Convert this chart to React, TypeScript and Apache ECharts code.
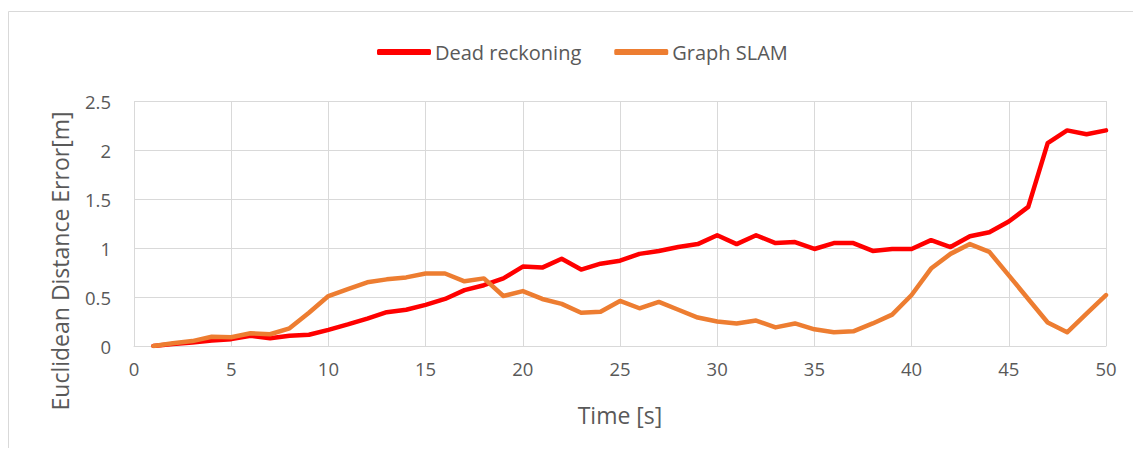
import React, { useEffect, useRef } from "react";
import * as echarts from "echarts";

const times = [1, 2, 3, 4, 5, 6, 7, 8, 9, 10, 11, 12, 13, 14, 15, 16, 17, 18, 19, 20, 21, 22, 23, 24, 25, 26, 27, 28, 29, 30, 31, 32, 33, 34, 35, 36, 37, 38, 39, 40, 41, 42, 43, 44, 45, 46, 47, 48, 49, 50];
const deadReckoning = [0, 0.02, 0.035, 0.055, 0.07, 0.105, 0.08, 0.105, 0.115, 0.165, 0.22, 0.28, 0.345, 0.37, 0.42, 0.48, 0.57, 0.62, 0.69, 0.81, 0.8, 0.89, 0.78, 0.84, 0.87, 0.94, 0.97, 1.01, 1.04, 1.13, 1.04, 1.13, 1.05, 1.06, 0.99, 1.05, 1.05, 0.97, 0.99, 0.99, 1.08, 1.01, 1.12, 1.16, 1.27, 1.42, 2.07, 2.2, 2.16, 2.2];
const graphSlam = [0, 0.027, 0.05, 0.095, 0.09, 0.13, 0.12, 0.18, 0.34, 0.51, 0.58, 0.65, 0.68, 0.7, 0.74, 0.74, 0.66, 0.69, 0.51, 0.56, 0.48, 0.43, 0.34, 0.35, 0.46, 0.385, 0.45, 0.37, 0.29, 0.25, 0.23, 0.26, 0.19, 0.23, 0.17, 0.14, 0.15, 0.23, 0.32, 0.52, 0.79, 0.94, 1.04, 0.96, 0.72, 0.48, 0.24, 0.14, 0.33, 0.52];
const seriesNames = ["Dead reckoning", "Graph SLAM"];
const yTitle = "Euclidean Distance Error[m]";
const xTitle = "Time [s]";

const FONT = "'Open Sans', sans-serif";
const TEXT = "#595959";
const GRID = "#d9d9d9";

export default function App() {
  const ref = useRef<HTMLDivElement>(null);
  useEffect(() => {
    if (!ref.current) return;
    const chart = echarts.init(ref.current, null, { renderer: "svg" });
    const pair = (vals: number[]) => times.map((t, i) => [t, vals[i]]);
    chart.setOption({
      animation: false,
      textStyle: { fontFamily: FONT },
      graphic: [
        {
          type: "rect",
          shape: { x: 8.5, y: 11.5, width: 1300, height: 600 },
          style: { fill: "none", stroke: GRID, lineWidth: 1 },
          silent: true,
        },
        {
          type: "text",
          x: 60,
          y: 261,
          rotation: Math.PI / 2,
          style: {
            text: yTitle,
            fill: TEXT,
            font: `23px ${FONT}`,
            align: "center",
            verticalAlign: "middle",
          },
          silent: true,
        },
      ],
      legend: {
        top: 37,
        left: 372,
        itemWidth: 54,
        itemHeight: 6,
        itemGap: 33,
        icon: "roundRect",
        textStyle: { color: TEXT, fontSize: 20, fontFamily: FONT, padding: [0, 0, 0, -1] },
        data: seriesNames,
      },
      grid: { left: 134, right: 35, top: 101, bottom: 110, containLabel: false },
      xAxis: {
        type: "value",
        min: 0,
        max: 50,
        interval: 5,
        name: xTitle,
        nameLocation: "middle",
        nameGap: 57,
        nameTextStyle: { color: TEXT, fontSize: 23, fontFamily: FONT },
        axisLine: { show: true, lineStyle: { color: GRID, width: 1 } },
        axisTick: { show: false },
        axisLabel: { color: TEXT, fontSize: 18.5, fontFamily: FONT, margin: 13 },
        splitLine: { show: true, lineStyle: { color: GRID, width: 1 } },
      },
      yAxis: {
        type: "value",
        min: 0,
        max: 2.5,
        interval: 0.5,
        axisLine: { show: false },
        axisTick: { show: false },
        axisLabel: { color: TEXT, fontSize: 18.5, fontFamily: FONT, margin: 23 },
        splitLine: { show: true, lineStyle: { color: GRID, width: 1 } },
      },
      series: [
        {
          name: seriesNames[0],
          type: "line",
          data: pair(deadReckoning),
          showSymbol: false,
          symbol: "none",
          lineStyle: { color: "#ff0000", width: 4.5, cap: "round", join: "round" },
          itemStyle: { color: "#ff0000" },
          z: 3,
        },
        {
          name: seriesNames[1],
          type: "line",
          data: pair(graphSlam),
          showSymbol: false,
          symbol: "none",
          lineStyle: { color: "#ed7d31", width: 4.5, cap: "round", join: "round" },
          itemStyle: { color: "#ed7d31" },
          z: 4,
        },
      ],
    });
    return () => chart.dispose();
  }, []);
  return (
    <div style={{ margin: -8 }}>
      <div ref={ref} style={{ width: 1141, height: 456 }} />
    </div>
  );
}
